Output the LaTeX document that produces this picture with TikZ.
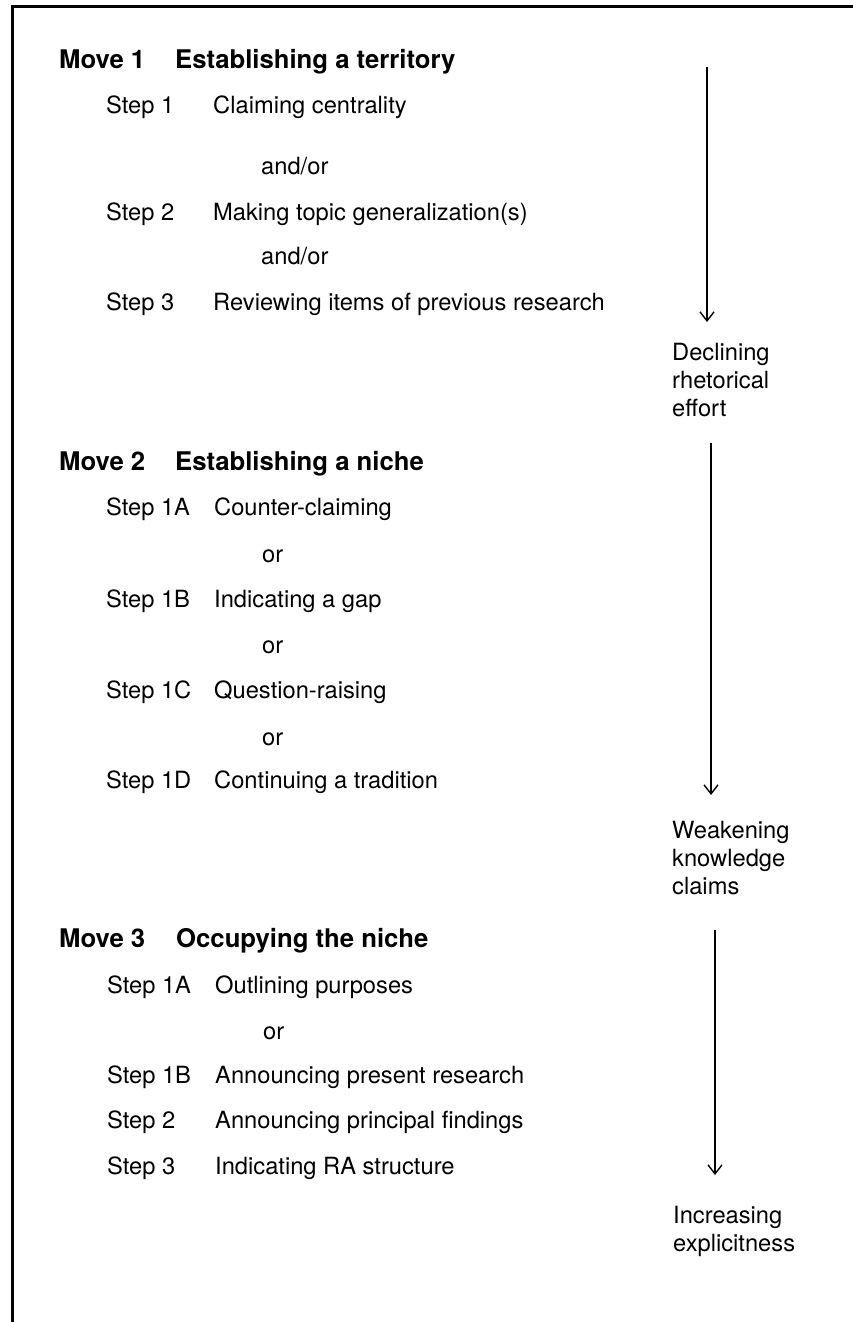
\documentclass[tikz,border=0pt]{standalone}
\usepackage{fontspec}
\setmainfont{TeX Gyre Heros}
\usetikzlibrary{arrows.meta}

\tikzset{
  movehead/.style={anchor=mid west, inner sep=0pt, font=\fontsize{25.7}{30}\selectfont\bfseries},
  steplbl/.style={anchor=mid west, inner sep=0pt, font=\fontsize{23.7}{28}\selectfont},
  effect/.style={anchor=west, inner sep=0pt, align=left, font=\fontsize{23.7}{28}\selectfont},
  trend/.style={-{Straight Barb[length=9pt,width=14pt]}, line width=1.4pt},
}

\begin{document}
\begin{tikzpicture}[x=1pt, y=-1pt]
          \useasboundingbox (0,0) rectangle (853,1322);
          \draw[line width=3pt] (12,1322) -- (12,7) -- (853,7);

          \node[movehead] (m1) at (59, 66) {Move 1};
          \node[movehead] (m1t) at (175, 66) {Establishing a territory};
          \node[steplbl] (s11) at (106, 111) {Step 1};
          \node[steplbl] (s11t) at (213, 111) {Claiming centrality};
          \node[steplbl] (c11) at (261, 172) {and/or};
          \node[steplbl] (s12) at (106, 218) {Step 2};
          \node[steplbl] (s12t) at (213, 218) {Making topic generalization(s)};
          \node[steplbl] (c12) at (261, 262) {and/or};
          \node[steplbl] (s13) at (106, 308) {Step 3};
          \node[steplbl] (s13t) at (213, 308) {Reviewing items of previous research};

          \node[movehead] (m2) at (59, 468) {Move 2};
          \node[movehead] (m2t) at (175, 468) {Establishing a niche};
          \node[steplbl] (s21a) at (106, 513) {Step 1A};
          \node[steplbl] (s21at) at (214, 513) {Counter-claiming};
          \node[steplbl] (c21) at (262, 560) {or};
          \node[steplbl] (s21b) at (106, 605) {Step 1B};
          \node[steplbl] (s21bt) at (214, 605) {Indicating a gap};
          \node[steplbl] (c22) at (262, 651) {or};
          \node[steplbl] (s21c) at (106, 696) {Step 1C};
          \node[steplbl] (s21ct) at (214, 696) {Question-raising};
          \node[steplbl] (c23) at (262, 743) {or};
          \node[steplbl] (s21d) at (106, 786) {Step 1D};
          \node[steplbl] (s21dt) at (214, 786) {Continuing a tradition};

          \node[movehead] (m3) at (59, 945) {Move 3};
          \node[movehead] (m3t) at (176, 945) {Occupying the niche};
          \node[steplbl] (s31a) at (107, 991) {Step 1A};
          \node[steplbl] (s31at) at (215, 991) {Outlining purposes};
          \node[steplbl] (c31) at (263, 1037) {or};
          \node[steplbl] (s31b) at (107, 1081) {Step 1B};
          \node[steplbl] (s31bt) at (215, 1081) {Announcing present research};
          \node[steplbl] (s32) at (107, 1126) {Step 2};
          \node[steplbl] (s32t) at (215, 1126) {Announcing principal findings};
          \node[steplbl] (s33) at (107, 1172) {Step 3};
          \node[steplbl] (s33t) at (215, 1172) {Indicating RA structure};

          \node[effect] (e1) at (672, 380) {Declining\\rhetorical\\effort};
          \node[effect] (e2) at (672, 858) {Weakening\\knowledge\\claims};
          \node[effect] (e3) at (673, 1231) {Increasing\\explicitness};

          \coordinate (a1) at (707, 67);
          \coordinate (b1) at (707, 322);
          \coordinate (a2) at (711, 443);
          \coordinate (b2) at (711, 795);
          \coordinate (a3) at (715, 930);
          \coordinate (b3) at (715, 1175);

          \draw[trend] (a1) -- (b1);
          \draw[trend] (a2) -- (b2);
          \draw[trend] (a3) -- (b3);

        \end{tikzpicture}
\end{document}
